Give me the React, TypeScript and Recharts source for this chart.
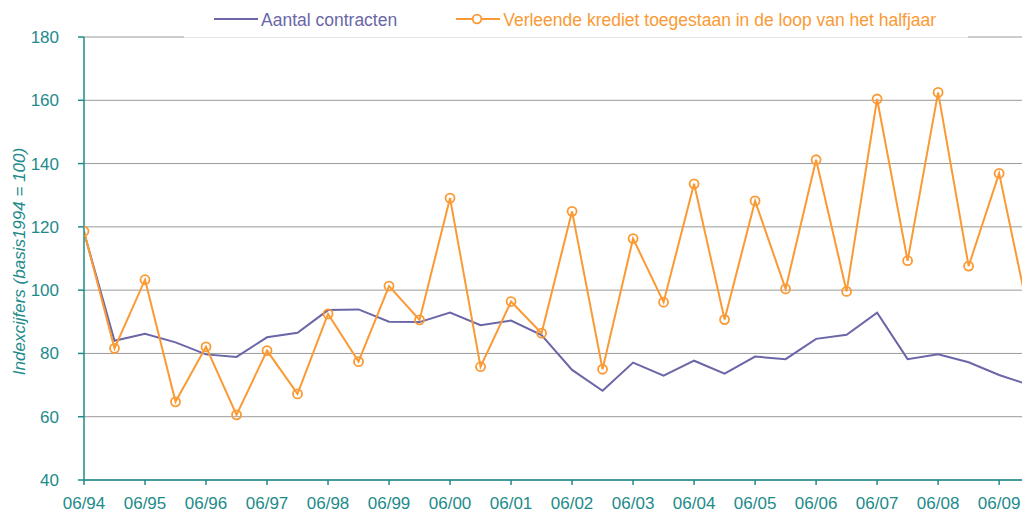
import { LineChart, Line, CartesianGrid, XAxis, YAxis, Legend } from "recharts";

// half-year periods, starting 06/94
const periods = [
  "06/94", "12/94", "06/95", "12/95", "06/96", "12/96", "06/97", "12/97",
  "06/98", "12/98", "06/99", "12/99", "06/00", "12/00", "06/01", "12/01",
  "06/02", "12/02", "06/03", "12/03", "06/04", "12/04", "06/05", "12/05",
  "06/06", "12/06", "06/07", "12/07", "06/08", "12/08", "06/09", "12/09",
];

const contracten = [
  118.3, 84, 86.2, 83.5, 79.7, 78.9, 85.1, 86.5,
  93.7, 93.9, 90, 89.9, 92.9, 88.9, 90.4, 85.8,
  74.8, 68.2, 77.1, 73, 77.7, 73.6, 79, 78.2,
  84.6, 85.9, 92.9, 78.2, 79.7, 77.2, 73.2, 70,
];

const krediet = [
  118.6, 81.6, 103.3, 64.7, 82.1, 60.6, 80.9, 67.2,
  92.5, 77.4, 101.3, 90.6, 129.1, 75.8, 96.4, 86.4,
  124.9, 75, 116.3, 96.2, 133.6, 90.7, 128.2, 100.4,
  141.2, 99.6, 160.4, 109.3, 162.5, 107.6, 136.9, 91,
];

const yTicks = [40, 60, 80, 100, 120, 140, 160, 180];
const xTicks = [0, 2, 4, 6, 8, 10, 12, 14, 16, 18, 20, 22, 24, 26, 28, 30];

const data = periods.map((p, i) => ({
  i,
  period: p,
  contracten: contracten[i],
  krediet: krediet[i],
}));

const TEAL = "#1d8b8b";
const PURPLE = "#6a66a8";
const ORANGE = "#fb9a34";
const FONT = "'Liberation Sans', Arial, sans-serif";

function LegendBox(props: any) {
  const items = props.payload || [];
  return (
    <div
      style={{
        display: "flex",
        alignItems: "center",
        height: 33,
        paddingTop: 4,
        paddingLeft: 30,
        boxSizing: "content-box",
        fontFamily: FONT,
        fontSize: 17.5,
      }}
    >
      {items.map((it: any, k: number) => (
        <div key={k} style={{ display: "flex", alignItems: "center", marginRight: 59 }}>
          <svg width={44} height={12} style={{ position: "relative", top: -1.5 }}>
            <line x1={0} y1={6} x2={44} y2={6} stroke={it.color} strokeWidth={2} />
            {it.dataKey === "krediet" && (
              <circle cx={21} cy={6} r={4.3} fill="#fff" stroke={it.color} strokeWidth={1.8} />
            )}
          </svg>
          <span style={{ color: it.color, marginLeft: 3, whiteSpace: "nowrap" }}>{it.value}</span>
        </div>
      ))}
    </div>
  );
}

export default function App() {
  return (
    <div style={{ position: "absolute", left: 0, top: 0, background: "#fff" }}>
      <LineChart
        width={1022}
        height={513}
        data={data}
        margin={{ top: 37, right: 0, left: 0, bottom: 0 }}
      >
        <CartesianGrid vertical={false} stroke="#9a9a9a" strokeWidth={1} />
        <XAxis
          dataKey="i"
          type="number"
          domain={[0, 30.75]}
          allowDataOverflow
          ticks={xTicks}
          interval={0}
          tickFormatter={(v: number) => periods[v]}
          height={33}
          axisLine={{ stroke: TEAL, strokeWidth: 1.5 }}
          tickLine={{ stroke: TEAL, strokeWidth: 1.5 }}
          tickSize={5}
          tickMargin={12}
          tick={{ fill: TEAL, fontSize: 17, fontFamily: FONT }}
        />
        <YAxis
          type="number"
          domain={[40, 180]}
          ticks={yTicks}
          interval={0}
          width={84}
          axisLine={{ stroke: TEAL, strokeWidth: 1.5 }}
          tickLine={{ stroke: TEAL, strokeWidth: 1.5 }}
          tickSize={6}
          tickMargin={19}
          tick={{ fill: TEAL, fontSize: 17, fontFamily: FONT }}
          label={{
            content: (p: any) => {
              const vb = p.viewBox || { x: 0, y: 37, width: 84, height: 443 };
              const cx = vb.x + 19;
              const cy = vb.y + vb.height / 2 + 3;
              return (
                <text
                  x={cx}
                  y={cy}
                  transform={`rotate(-90, ${cx}, ${cy})`}
                  textAnchor="middle"
                  dominantBaseline="central"
                  fill={TEAL}
                  fontSize={17}
                  fontStyle="italic"
                  fontFamily={FONT}
                >
                  Indexcijfers (basis1994 = 100)
                </text>
              );
            },
          }}
        />
        <Legend
          verticalAlign="middle"
          align="center"
          content={<LegendBox />}
          wrapperStyle={{
            top: 0,
            left: 184,
            width: 784,
            height: 37,
            background: "#fff",
            borderBottom: "1px solid #e4e4e4",
          }}
        />
        <Line
          type="linear"
          dataKey="contracten"
          name="Aantal contracten"
          stroke={PURPLE}
          strokeWidth={2}
          dot={false}
          isAnimationActive={false}
        />
        <Line
          type="linear"
          dataKey="krediet"
          name="Verleende krediet toegestaan in de loop van het halfjaar"
          stroke={ORANGE}
          strokeWidth={2}
          dot={{ r: 4.5, fill: "none", stroke: ORANGE, strokeWidth: 1.8 }}
          isAnimationActive={false}
        />
      </LineChart>
    </div>
  );
}
